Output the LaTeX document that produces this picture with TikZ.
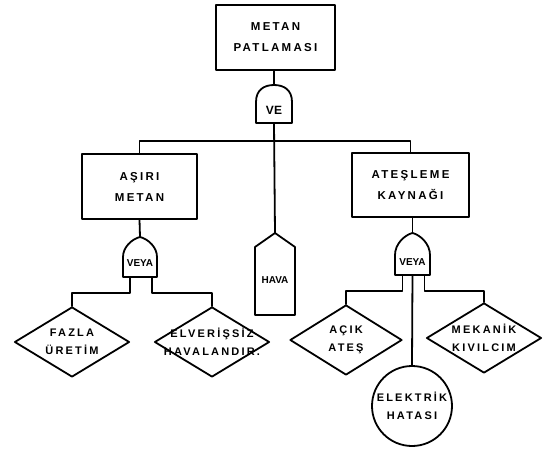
\documentclass[tikz,border=0pt]{standalone}
\usepackage{fontspec}
\setmainfont{Liberation Sans}
\newfontfamily\lblfam{Liberation Sans Bold}[LetterSpace=20]
\newfontfamily\gatefam{Liberation Sans Bold}
\newcommand\lblfont{\lblfam\fontsize{11.5}{21}\selectfont}
\newcommand\dlblfont{\lblfam\fontsize{11}{18}\selectfont}
\newcommand\gatefont{\gatefam\fontsize{10}{10}\selectfont}
\usetikzlibrary{shapes.geometric,calc}
\begin{document}
\begin{tikzpicture}[x=1pt,y=-1pt,
  ln/.style={line width=1.8pt, line join=round, line cap=round},
  event/.style={draw, ln, rectangle, inner sep=0pt, align=center, font=\lblfont},
  diam/.style={draw, ln, diamond, inner sep=0pt, minimum width=115pt, minimum height=70pt},
  circ/.style={draw, ln, circle, inner sep=0pt, minimum size=80pt},
  hold/.style={inner sep=0pt, draw=none, rectangle},
  lab/.style={font=\dlblfont, align=center, inner sep=0pt},
  glab/.style={font=\gatefont, inner sep=0pt}]
\useasboundingbox[fill=white] (0,0) rectangle (550,450);

% top event
\node[event, minimum width=119pt, minimum height=65pt] (top) at (275.5,37.5) {METAN\\PATLAMASI};

% AND gate
\node[hold, minimum width=36pt, minimum height=38pt] (ve) at (274,104) {};
\draw[ln, shift={(ve.center)}] (-18,19) -- (-18,-2) .. controls (-18,-14) and (-10,-19) .. (0,-19)
  .. controls (10,-19) and (18,-14) .. (18,-2) -- (18,19) -- cycle;
\node[glab, font=\gatefam\fontsize{12}{12}\selectfont] (vet) at ($(ve.center)+(0,6)$) {VE};

% HAVA house
\node[hold, minimum width=40pt, minimum height=82pt] (hava) at (275,274) {};
\draw[ln, shift={(hava.center)}] (-20,41) -- (-20,-27) -- (0,-41) -- (20,-27) -- (20,41) -- cycle;
\node[glab] (havat) at ($(hava.center)+(0,6)$) {HAVA};

% intermediate events
\node[event, minimum width=115pt, minimum height=65pt] (asiri) at (139.5,186.5) {AŞIRI\\METAN};
\node[event, minimum width=117pt, minimum height=64pt] (ates) at (410.5,185) {ATEŞLEME\\KAYNAĞI};

% OR gates
\node[hold, minimum width=34pt, minimum height=40pt] (lg) at (140,257) {};
\draw[ln, shift={(lg.center)}] (-17,20) -- (-17,0) .. controls (-17,-10) and (-8,-18) .. (0,-20)
  .. controls (8,-18) and (17,-10) .. (17,0) -- (17,20) -- cycle;
\node[glab] (lgt) at ($(lg.center)+(0,6)$) {VEYA};

\node[hold, minimum width=35pt, minimum height=42pt] (rg) at (412.5,254) {};
\draw[ln, shift={(rg.center)}] (-17.5,21) -- (-17.5,1) .. controls (-17.5,-10) and (-8,-19) .. (0,-21)
  .. controls (8,-19) and (17.5,-10) .. (17.5,1) -- (17.5,21) -- cycle;
\node[glab] (rgt) at ($(rg.center)+(0,8)$) {VEYA};

% basic events
\node[diam] (fazla) at (72,342) {};
\node[lab] (fazlat) at (fazla.center) {FAZLA\\ÜRETİM};
\node[diam] (elv) at (212,342) {};
\node[lab] (elvt) at (elv.center) {ELVERİŞSİZ\\HAVALANDIR.};
\node[diam, minimum width=112pt] (acik) at (346,340) {};
\node[lab] (acikt) at (acik.center) {AÇIK\\ATEŞ};
\node[diam] (mek) at (484,338) {};
\node[lab] (mekt) at (mek.center) {MEKANİK\\KIVILCIM};
\node[circ] (elek) at (412,406) {};
\node[lab] (elekt) at (elek.center) {ELEKTRİK\\HATASI};

% connectors
\draw[ln] (ve.north) -- (ve.north |- top.south);
\draw[ln] (ve.south) -- (hava.north);
\coordinate (bar) at (275,141);
\draw[ln] (asiri.north) |- (bar) -| (ates.north);
\draw[ln] (asiri.south) -- (lg.north);
\draw[ln] (rg.north) -- (rg.north |- ates.south);

\coordinate (lgl) at ($(lg.south)+(-10,0)$);
\coordinate (lgr) at ($(lg.south)+(12,0)$);
\draw[ln] (lgl) -- ++(0,16) -| (fazla.north);
\draw[ln] (lgr) -- ++(0,16) -| (elv.north);

\coordinate (rgl) at ($(rg.south)+(-10,0)$);
\coordinate (rgr) at ($(rg.south)+(12,0)$);
\draw[ln] (rgl) -- ++(0,16) -| (acik.north);
\draw[ln] (rgr) -- ++(0,16) -| (mek.north);
\draw[ln] (rg.south) -- (elek.north);
\end{tikzpicture}
\end{document}
